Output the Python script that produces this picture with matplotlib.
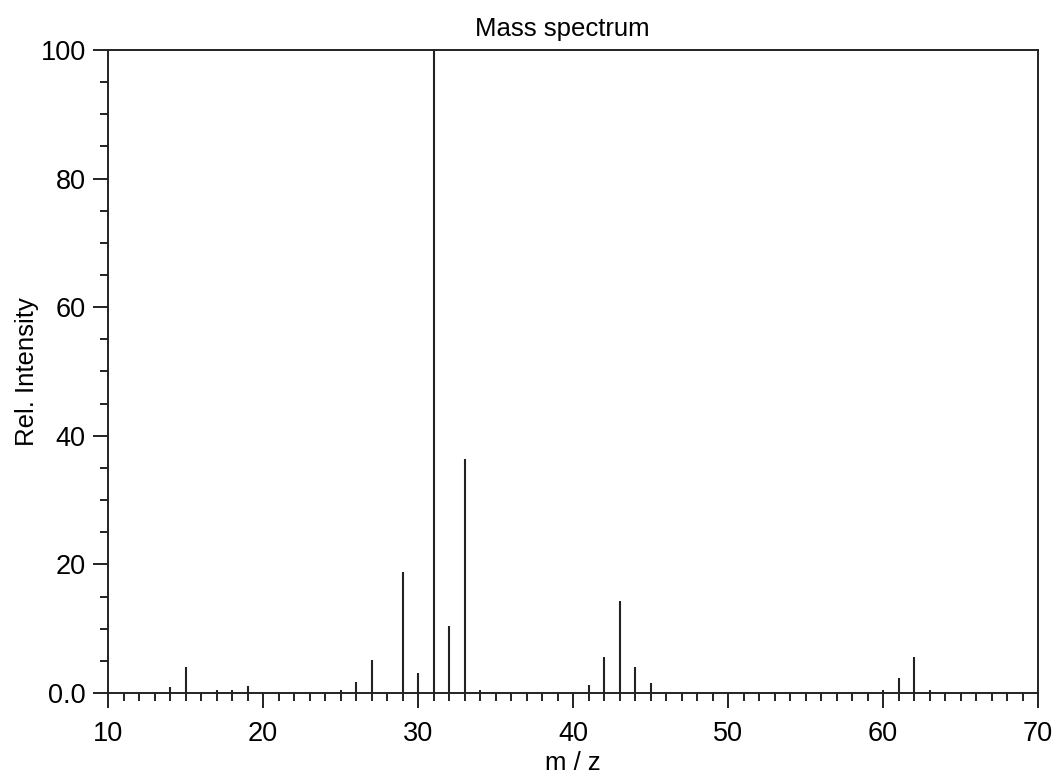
import matplotlib.pyplot as plt
from matplotlib.ticker import MultipleLocator, FuncFormatter

plt.rcParams["font.family"] = ["Liberation Sans", "DejaVu Sans"]

# peak list (m/z, relative intensity)
mz = [14, 15, 17, 18, 19, 25, 26, 27, 29, 30, 31, 32, 33, 34,
      41, 42, 43, 44, 45, 60, 61, 62, 63]
intensity = [0.9, 4.0, 0.5, 0.5, 1.1, 0.5, 1.7, 5.2, 18.8, 3.1, 100.0, 10.4, 36.4, 0.5,
             1.2, 5.6, 14.3, 4.0, 1.6, 0.5, 2.4, 5.6, 0.5]

fig = plt.figure(figsize=(10.55, 7.74), dpi=100)
ax = fig.add_axes([0.1024, 0.1047, 0.8815, 0.8307])

ax.vlines(mz, 0, intensity, color="#222222", linewidth=1.5)

ax.set_xlim(10, 70)
ax.set_ylim(0, 100)
ax.xaxis.set_major_locator(MultipleLocator(10))
ax.xaxis.set_minor_locator(MultipleLocator(1))
ax.yaxis.set_major_locator(MultipleLocator(20))
ax.yaxis.set_minor_locator(MultipleLocator(5))
ax.yaxis.set_major_formatter(FuncFormatter(lambda v, p: "0.0" if v == 0 else "%d" % v))

ax.tick_params(which="major", length=11, width=1.4, labelsize=19.5, pad=5, color="#222222")
ax.tick_params(which="minor", length=6, width=1.4, color="#222222")
ax.tick_params(axis="x", which="major", pad=9)
for s in ax.spines.values():
    s.set_linewidth(1.4)
    s.set_color("#222222")

ax.set_title("Mass spectrum", fontsize=18.5, pad=10, x=0.489)
ax.set_xlabel("m / z", fontsize=18.5, labelpad=3)
ax.set_ylabel("Rel. Intensity", fontsize=18.5, labelpad=1)

fig.savefig("out.png", dpi=100)
